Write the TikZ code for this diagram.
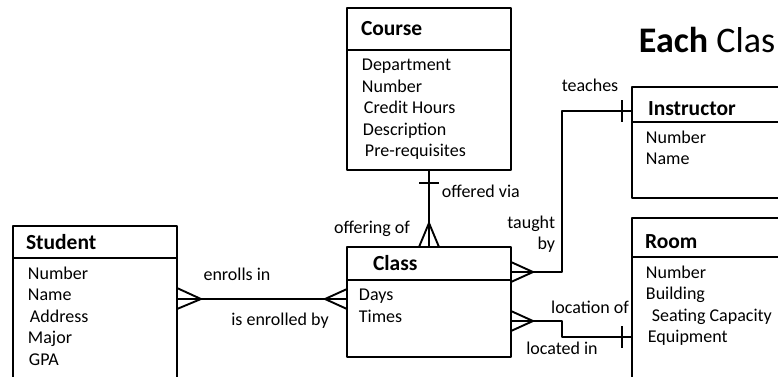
\documentclass[tikz,border=0pt]{standalone}
\usepackage{fontspec}
\setmainfont{Carlito}
\usetikzlibrary{positioning,calc}

\begin{document}
\begin{tikzpicture}[x = 1pt, y = -1pt, line width = 1.9pt, line join = round,
  head/.style = {draw, anchor = north west, outer sep = 0pt, align = left, inner xsep = 14pt, text width = 136pt, font = \bfseries\fontsize{21.5}{25}\selectfont},
  box/.style = {draw, outer sep = 0pt, minimum width = 164pt},
  attr/.style = {anchor = north west, align = left, inner xsep = 14pt, inner ysep = 8pt, font = \fontsize{18}{21.5}\selectfont},
  lbl/.style = {font = \fontsize{18}{21.5}\selectfont, inner sep = 0pt}]
\useasboundingbox (0,0) rectangle (778,376);
\clip (0,0) rectangle (778,376);

\node[head, minimum height = 42pt] (course) at (347,8) {Course};
\node[box, below = 0pt of course, minimum height = 120pt, label = {[attr]north west:Department\\Number\\\hspace{2pt}Credit Hours\\\hspace{1pt}Description\\\hspace{3pt}Pre-requisites}] (coursebody) {};

\node[head, minimum height = 33pt, inner xsep = 26pt, text width = 112pt] (class) at (347,247) {Class};
\node[box, below = 0pt of class, minimum height = 77pt, label = {[attr, inner xsep = 11pt]north west:Days\\Times}] (classbody) {};

\node[head, minimum height = 32pt, inner xsep = 13pt, text width = 138pt] (student) at (13,226) {Student};
\node[box, below = 0pt of student, minimum height = 150pt, label = {[attr]north west:Number\\Name\\\hspace{2pt}Address\\Major\\\hspace{1pt}GPA}] (studentbody) {};

\node[head, minimum height = 35pt, inner xsep = 16pt, text width = 168pt, text height = 22pt, text depth = 0pt] (instructor) at (632,87) {Instructor};
\node[box, minimum width = 200pt, below = 0pt of instructor, minimum height = 76pt, label = {[attr, inner xsep = 13pt]north west:Number\\Name}] (instructorbody) {};

\node[head, minimum height = 39pt, inner xsep = 13pt, text width = 174pt, text height = 22pt, text depth = 0pt] (room) at (632,218) {Room};
\node[box, minimum width = 200pt, below = 0pt of room, minimum height = 150pt, label = {[attr, inner xsep = 13pt]north west:Number\\Building\\\hspace{6pt}Seating Capacity\\\hspace{2pt}Equipment}] (roombody) {};

\node[font = \fontsize{36}{40}\selectfont, anchor = base west, inner sep = 0pt] (title) at (638,52) {\textbf{Each} Clas};

\draw (coursebody.south) -- (class.north);
\draw (coursebody.south) ++(-10,13) -- ++(20,0);
\draw (class.north) ++(-10,0) -- ++(10,-24) -- ++(10,24);

\coordinate (enrol) at ($(studentbody.north east)+(0,41)$);
\draw (enrol) -- (enrol -| classbody.west);
\draw (enrol) ++(0,-11) -- ++(24,11) -- ++(-24,10);
\draw (enrol -| classbody.west) ++(0,-10) -- ++(-22,10) -- ++(22,10);

\coordinate (teach) at ($(class.north east)+(0,25)$);
\coordinate (instr) at ($(instructor.north west)+(0,24)$);
\draw (teach) -- ++(51,0) |- (instr);
\draw (teach) ++(0,-10) -- ++(22,10) -- ++(-22,10);
\draw (instr) ++(-10,-11) -- ++(0,22);

\coordinate (locof) at ($(classbody.north east)+(0,41)$);
\coordinate (locin) at ($(roombody.north west)+(0,80)$);
\draw (locof) -- ++(51,0) |- (locin);
\draw (locof) ++(0,-10) -- ++(22,10) -- ++(-22,10);
\draw (locin) ++(-10,-11) -- ++(0,22);

\node[lbl] (enrollsin) at (237,274) {enrolls in};
\node[lbl] (enrolledby) at (280,321) {is enrolled by};
\node[lbl] (offeringof) at (372,229) {offering of};
\node[lbl, anchor = west] (offeredvia) at (441,191) {offered via};
\node[lbl, anchor = east, align = right] (taughtby) at (556,234) {taught\\by};
\node[lbl] (teaches) at (590,85) {teaches};
\node[lbl] (locationof) at (590,307) {location of};
\node[lbl] (locatedin) at (562,348) {located in};
\end{tikzpicture}
\end{document}
